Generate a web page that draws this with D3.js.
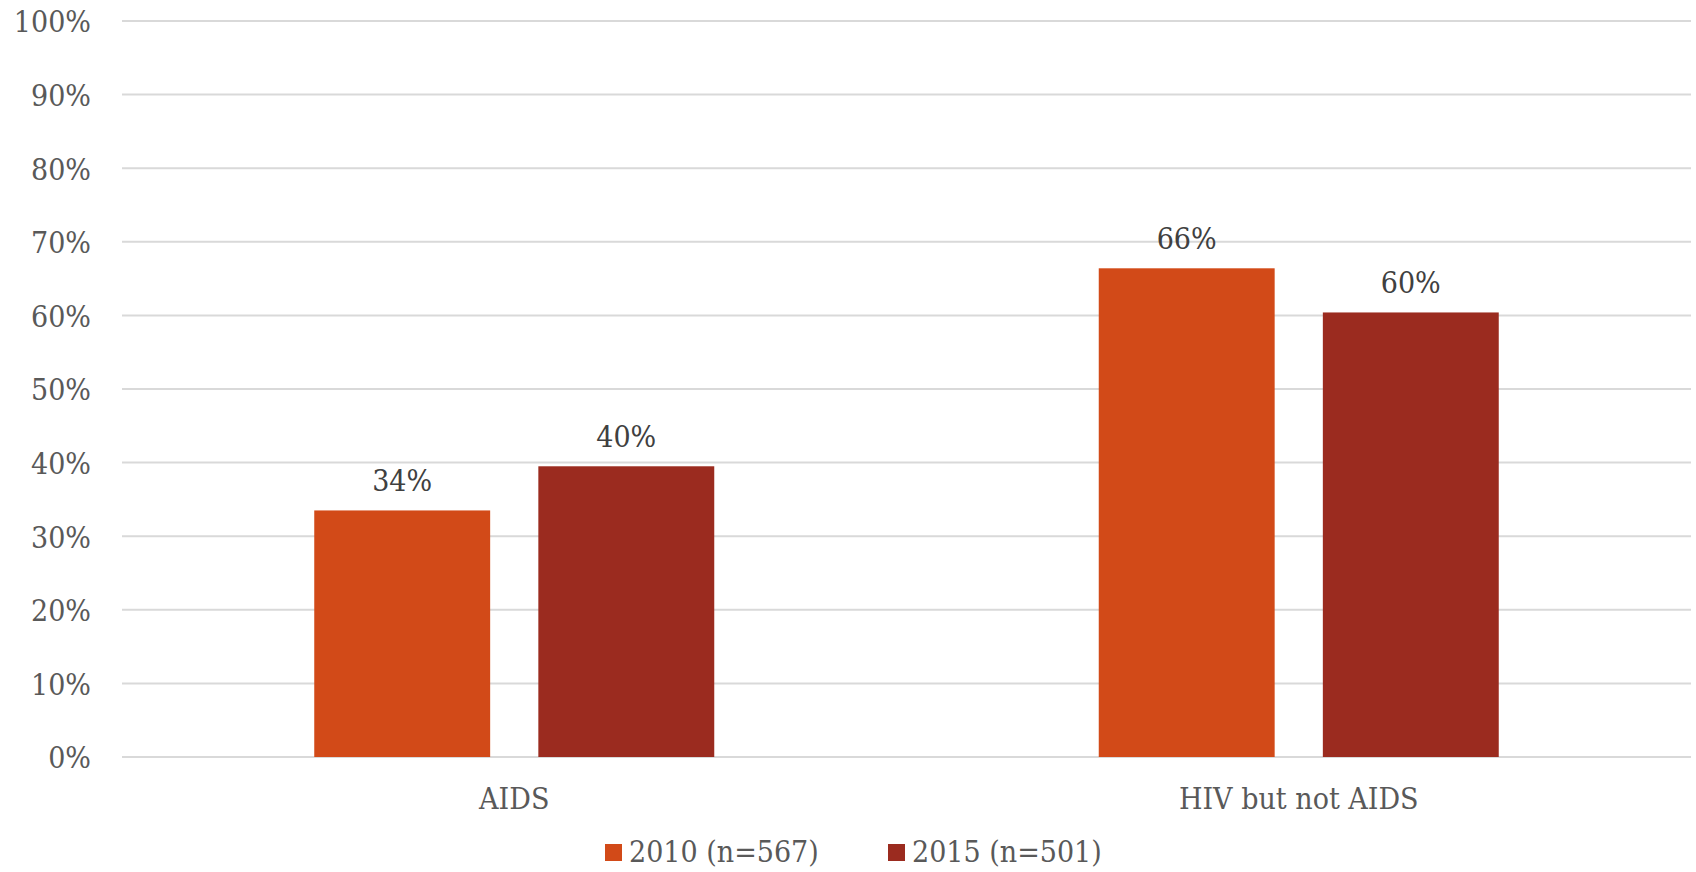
<!DOCTYPE html>
<html>
<head>
<meta charset="utf-8">
<script src="https://cdn.jsdelivr.net/npm/d3@7"></script>
<style>
  body { margin: 0; background: #fff; }
  svg text { font-family: "DejaVu Serif", serif; font-stretch: condensed; }
</style>
</head>
<body>
<div id="chart"></div>
<script>
// data
const categories = ["AIDS", "HIV but not AIDS"];
const seriesNames = ["2010 (n=567)", "2015 (n=501)"];
const values2010 = [33.5, 66.4];
const values2015 = [39.5, 60.4];
const valueLabels2010 = ["34%", "66%"];
const valueLabels2015 = ["40%", "60%"];
const yTicks = [0, 10, 20, 30, 40, 50, 60, 70, 80, 90, 100];
const colors = ["#D24A18", "#9B2B1F"];

const width = 1696, height = 872;
const margin = { top: 21, right: 5, bottom: 115, left: 122 };

const svg = d3.select("#chart").append("svg")
    .attr("width", width)
    .attr("height", height);

const x = d3.scaleBand()
    .domain(categories)
    .range([margin.left, width - margin.right]);

const xInner = d3.scaleBand()
    .domain(seriesNames)
    .range([0, 400])
    .paddingInner(0.215);

const y = d3.scaleLinear()
    .domain([0, 100])
    .range([height - margin.bottom, margin.top]);

// gridlines
svg.append("g")
    .selectAll("line")
    .data(yTicks)
    .join("line")
    .attr("x1", margin.left)
    .attr("x2", width - margin.right)
    .attr("y1", d => y(d))
    .attr("y2", d => y(d))
    .attr("stroke", "#d9d9d9")
    .attr("stroke-width", 2);

// y tick labels
const yAxis = svg.append("g")
    .attr("transform", `translate(${margin.left},0)`)
    .call(d3.axisLeft(y).tickValues(yTicks).tickFormat(d => d + "%").tickSize(0).tickPadding(31));
yAxis.select(".domain").remove();
yAxis.selectAll("text")
    .attr("font-size", 30)
    .attr("fill", "#595959")
    .style("font-family", "DejaVu Serif")
    .attr("dy", "0.36em");

const rows = categories.map((c, i) => ({
    cat: c,
    bars: [
        { s: seriesNames[0], v: values2010[i], label: valueLabels2010[i], color: colors[0] },
        { s: seriesNames[1], v: values2015[i], label: valueLabels2015[i], color: colors[1] }
    ]
}));

const groups = svg.append("g")
    .selectAll("g")
    .data(rows)
    .join("g")
    .attr("transform", d => `translate(${x(d.cat) + x.bandwidth() / 2 - 200},0)`);

groups.selectAll("rect")
    .data(d => d.bars)
    .join("rect")
    .attr("x", d => xInner(d.s))
    .attr("width", xInner.bandwidth())
    .attr("y", d => y(d.v))
    .attr("height", d => y(0) - y(d.v))
    .attr("fill", d => d.color);

groups.selectAll("text.val")
    .data(d => d.bars)
    .join("text")
    .attr("class", "val")
    .attr("x", d => xInner(d.s) + xInner.bandwidth() / 2)
    .attr("y", d => y(d.v) - 19)
    .attr("text-anchor", "middle")
    .attr("font-size", 30)
    .attr("fill", "#404040")
    .text(d => d.label);

// category labels
svg.append("g")
    .selectAll("text")
    .data(categories)
    .join("text")
    .attr("x", d => x(d) + x.bandwidth() / 2)
    .attr("y", 809)
    .attr("text-anchor", "middle")
    .attr("font-size", 30)
    .attr("fill", "#595959")
    .text(d => d);

// legend
const legendX = [605, 888];
const legend = svg.append("g")
    .selectAll("g")
    .data(seriesNames)
    .join("g")
    .attr("transform", (d, i) => `translate(${legendX[i]},844)`);

legend.append("rect")
    .attr("width", 17)
    .attr("height", 17)
    .attr("fill", (d, i) => colors[i]);

legend.append("text")
    .attr("x", 24)
    .attr("y", 18)
    .attr("font-size", 30)
    .attr("fill", "#595959")
    .text(d => d);
</script>
</body>
</html>
